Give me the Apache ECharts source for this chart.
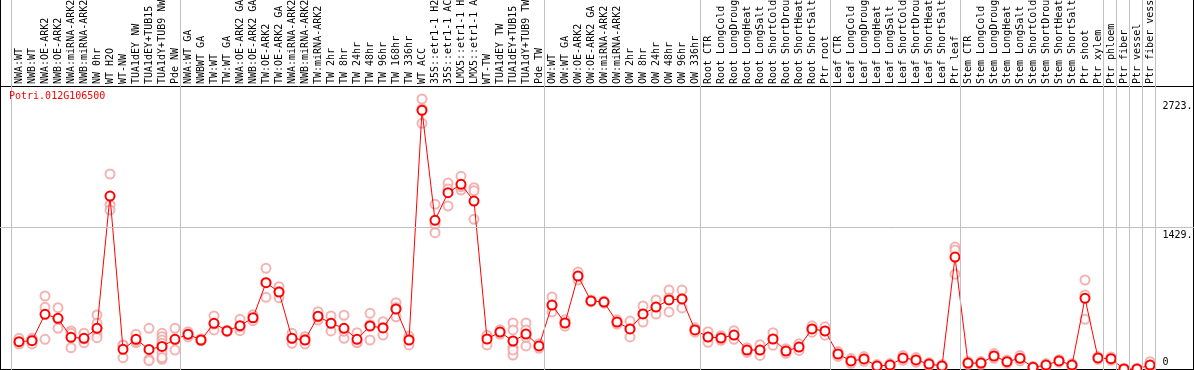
<!DOCTYPE html>
<html><head><meta charset="utf-8">
<script src="https://cdn.jsdelivr.net/npm/echarts/dist/echarts.min.js"></script>
<style>html,body{margin:0;padding:0;background:#fff}#c{width:1194px;height:370px}</style>
</head><body><div id="c"></div>
<script>
const geneId = 'Potri.012G106500';
const categories = ['NWA:WT','NWB:WT','NWA:OE-ARK2','NWB:OE-ARK2','NWA:miRNA-ARK2','NWB:miRNA-ARK2','NW 0hr','WT H2O','WT-NW','TUA1dEY NW','TUA1dEY+TUB15 NW','TUA1dY+TUB9 NW','Pde NW',
'NWA:WT GA','NWBWT GA','TW:WT','TW:WT GA','NWA:OE-ARK2 GA','NWB:OE-ARK2 GA','TW:OE-ARK2','TW:OE-ARK2 GA','NWA:miRNA-ARK2 GA','NWB:miRNA-ARK2 GA','TW:miRNA-ARK2','TW 2hr','TW 8hr','TW 24hr','TW 48hr','TW 96hr','TW 168hr','TW 336hr','WT ACC','35S::etr1-1 H2O','35S::etr1-1 ACC','LMX5::etr1-1 H2O','LMX5::etr1-1 ACC','WT-TW','TUA1dEY TW','TUA1dEY+TUB15 TW','TUA1dY+TUB9 TW','Pde TW',
'OW:WT','OW:WT GA','OW:OE-ARK2','OW:OE-ARK2 GA','OW:miRNA-ARK2','OW:miRNA-ARK2 GA','OW 2hr','OW 8hr','OW 24hr','OW 48hr','OW 96hr','OW 336hr',
'Root CTR','Root LongCold','Root LongDrought','Root LongHeat','Root LongSalt','Root ShortCold','Root ShortDrought','Root ShortHeat','Root ShortSalt','Ptr root',
'Leaf CTR','Leaf LongCold','Leaf LongDrought','Leaf LongHeat','Leaf LongSalt','Leaf ShortCold','Leaf ShortDrought','Leaf ShortHeat','Leaf ShortSalt','Ptr leaf',
'Stem CTR','Stem LongCold','Stem LongDrought','Stem LongHeat','Stem LongSalt','Stem ShortCold','Stem ShortDrought','Stem ShortHeat','Stem ShortSalt','Ptr shoot',
'Ptr xylem','Ptr phloem','Ptr fiber','Ptr vessel','Ptr fiber vessel'];
const means = [280,290,556,515,324,314,415,1746,203,304,
202,232,304,354,297,465,388,441,521,874,
780,314,297,536,465,415,304,438,418,609,
297,2609,1502,1780,1864,1696,307,377,287,357,
237,649,468,941,690,679,478,408,559,629,
700,710,398,327,317,347,196,196,307,186,
226,408,388,156,86,106,35,45,116,96,
55,35,1132,65,65,136,79,113,22,45,
86,45,717,116,109,5,5,45];
const replicates = [[314,270,256],[314,257,299],[740,626,304],[622,415,508],[388,364,220],[364,270,308],[549,465,415,364,320],[1968,1656,1605],[247,119,243],[354,270,288],
[415,103,89],[364,330,297,264,213,163,103,120],[415,196,301],[380,354,328],[310,290,291],[539,398,458],[388,395,381],[505,391,427],[521,491,551],[1019,727,876],
[833,723,784],[364,264,314],[330,257,304],[582,498,528],[539,388,468],[546,314,385],[370,270,272],[566,297,451],[481,347,426],[672,531,624],
[337,247,307],[2723,2626,2478],[1663,1465,1377],[1877,1646,1817],[1945,1807,1840],[1830,1800,1512],[330,247,344],[400,377,354],[468,398,226,146,197],[468,398,357,237,325],
[260,237,214],[730,649,579],[500,468,436],[981,941,901],[700,690,680],[690,679,668],[500,478,456],[488,408,328],[640,559,478],[700,629,558],
[800,720,580],[800,710,620],[420,398,376],[380,327,274],[340,317,294],[390,347,304],[220,196,172],[250,196,142],[370,307,244],[210,186,162],
[260,226,192],[440,408,376],[430,346,388],[180,156,132],[110,86,62],[130,106,82],[50,35,20],[60,45,30],[140,116,92],[120,96,72],
[70,55,40],[50,35,20],[1233,1203,960],[80,65,50],[80,65,50],[160,136,112],[95,79,63],[140,113,86],[30,22,14],[60,45,30],
[100,86,72],[60,45,30],[901,750,505],[130,116,102],[125,109,93],[10,5,0],[10,5,0],[79,45,11]];
const yTicks = [0, 1429, 2723];
const groupEnds = [-1, 12, 40, 52, 62, 72, 83, 84, 85, 86, 87];

const FONT = 'DejaVu Sans Mono';
const repPoints = [];
replicates.forEach((arr, i) => arr.forEach(v => repPoints.push([i, v])));

const chart = echarts.init(document.getElementById('c'), null, {renderer: 'canvas'});
const hidden = {show: false};
const gb = {containLabel: false, outerBoundsMode: 'none'};
chart.setOption({
  animation: false,
  backgroundColor: '#fff',
  title: {text: geneId, left: 9, top: 91, padding: 0,
    textStyle: {color: '#ff0000', fontFamily: FONT, fontSize: 10, fontWeight: 'normal'}},
  grid: [
    Object.assign({left: 12.5, right: 37.5, top: 99, bottom: 0.5}, gb),
    Object.assign({left: 6, right: 31, top: 0, bottom: 0}, gb),
    Object.assign({left: 0, right: 0, top: 99, bottom: 0.5}, gb),
    Object.assign({left: 0.5, right: 0.5, top: -5, bottom: 0.5, show: true, borderColor: '#000', borderWidth: 1, backgroundColor: 'transparent'}, gb),
    Object.assign({left: 0.5, right: 0.5, top: 86.5, bottom: 0.5, show: true, borderColor: '#000', borderWidth: 1, backgroundColor: 'transparent'}, gb)
  ],
  xAxis: [
    {type: 'category', gridIndex: 0, data: categories, position: 'top', boundaryGap: true,
      axisLine: hidden, axisTick: hidden, splitLine: hidden,
      axisLabel: {interval: 0, rotate: 90, margin: 15, fontFamily: FONT, fontSize: 10, color: '#000', hideOverlap: false}},
    {type: 'value', gridIndex: 1, min: -1, max: 88, show: false, splitLine: hidden},
    {type: 'value', gridIndex: 2, min: 0, max: 1, show: false, splitLine: hidden},
    {type: 'value', gridIndex: 3, show: false, splitLine: hidden},
    {type: 'value', gridIndex: 4, show: false, splitLine: hidden}
  ],
  yAxis: [
    {type: 'value', gridIndex: 0, position: 'right', min: yTicks[0], max: yTicks[2], interval: yTicks[1],
      axisLine: hidden, axisTick: hidden, splitLine: hidden,
      axisLabel: {margin: 6, align: 'left', fontFamily: FONT, fontSize: 10, color: '#000',
        formatter: v => v === 0 ? '{z|0}' : '{t|' + v + '.}',
        rich: {
          t: {fontFamily: FONT, fontSize: 10, color: '#000', padding: [15, 0, 0, 0]},
          z: {fontFamily: FONT, fontSize: 10, color: '#000', padding: [0, 0, 15, 0]}
        }}},
    {type: 'value', gridIndex: 1, min: 0, max: 1, show: false, splitLine: hidden},
    {type: 'value', gridIndex: 2, min: yTicks[0], max: yTicks[2], show: false, splitLine: hidden},
    {type: 'value', gridIndex: 3, show: false, splitLine: hidden},
    {type: 'value', gridIndex: 4, show: false, splitLine: hidden}
  ],
  series: [
    {type: 'line', xAxisIndex: 1, yAxisIndex: 1, data: [[0, 0]], symbol: 'none', lineStyle: {opacity: 0}, silent: true, z: 1,
      markLine: {silent: true, symbol: ['none', 'none'], label: {show: false}, animation: false,
        lineStyle: {color: '#c0c0c0', width: 1, type: 'solid'},
        data: groupEnds.map(k => ({xAxis: k + 0.423}))}},
    {type: 'line', xAxisIndex: 2, yAxisIndex: 2, data: [[0, 0]], symbol: 'none', lineStyle: {opacity: 0}, silent: true, z: 1,
      markLine: {silent: true, symbol: ['none', 'none'], label: {show: false}, animation: false,
        lineStyle: {color: '#c0c0c0', width: 1, type: 'solid'},
        data: [{yAxis: yTicks[1]}]}},
    {type: 'scatter', xAxisIndex: 0, yAxisIndex: 0, data: repPoints, symbol: 'emptyCircle', symbolSize: 9, z: 3,
      itemStyle: {color: '#f0a0a0', borderColor: '#f0a0a0', borderWidth: 1}, silent: true},
    {type: 'line', xAxisIndex: 0, yAxisIndex: 0, data: means, symbol: 'emptyCircle', symbolSize: 9, z: 4,
      lineStyle: {color: '#ff0000', width: 1}, itemStyle: {color: '#ff0000', borderColor: '#ff0000', borderWidth: 1.3}, silent: true}
  ]
});
</script></body></html>
